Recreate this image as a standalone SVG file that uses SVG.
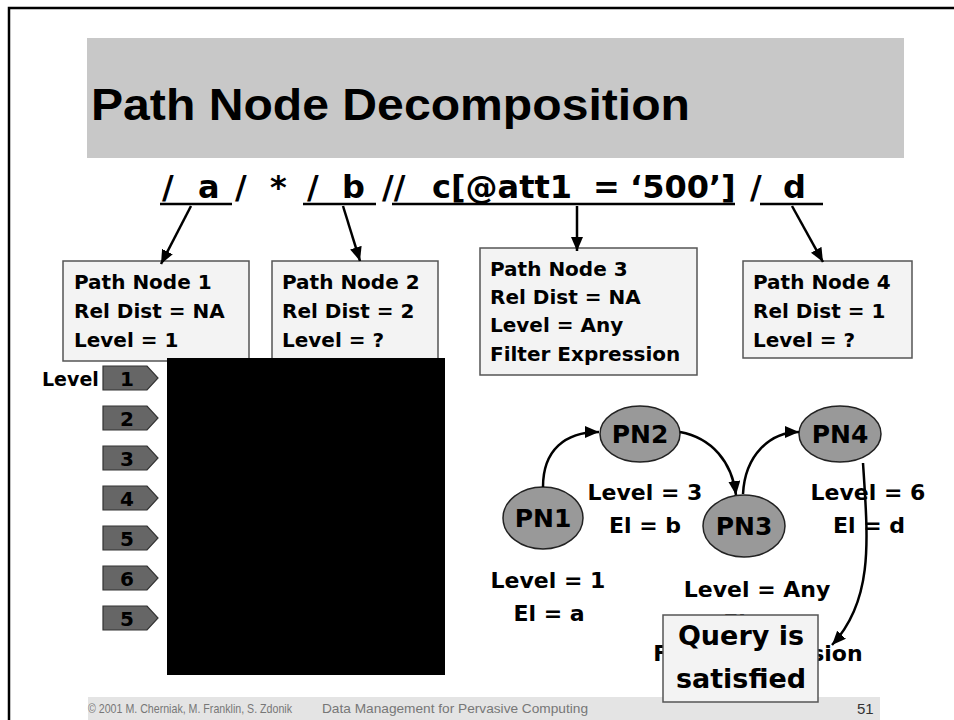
<svg xmlns="http://www.w3.org/2000/svg" width="954" height="720" viewBox="0 0 954 720">
<style>
.c{font-family:"DejaVu Sans","Liberation Sans",sans-serif;font-weight:bold;fill:#000}
.box{fill:#f3f3f3;stroke:#555;stroke-width:1.5}
.tag{fill:#666;stroke:#333;stroke-width:1.2}
.el{fill:#999;stroke:#222;stroke-width:1.5}
.ln{fill:none;stroke:#000;stroke-width:2.5}
.ul{stroke:#000;stroke-width:2.5}
.ft{font-family:"Liberation Sans",Arial,sans-serif;fill:#777;font-size:13px}
</style>
<defs>
<marker id="ah" markerUnits="userSpaceOnUse" markerWidth="16" markerHeight="14" refX="14" refY="6" orient="auto">
<path d="M0,0 L14,6 L0,12 z" fill="#000"/>
</marker>
</defs>
<rect width="954" height="720" fill="#fff"/>
<path d="M9,720 V8 H954" fill="none" stroke="#000" stroke-width="2.5"/>
<g id="title">
<rect x="87" y="38" width="817" height="120" fill="#c8c8c8"/>
<text x="91" y="120" font-family="Liberation Sans,Arial,sans-serif" font-weight="bold" font-size="45" textLength="599" lengthAdjust="spacingAndGlyphs">Path Node Decomposition</text>
</g>
<g id="expression" class="c" font-size="32">
<text class="c" font-size="32" y="198"><tspan x="162">/</tspan><tspan x="198">a</tspan><tspan x="235">/</tspan><tspan x="270">*</tspan><tspan x="307">/</tspan><tspan x="342">b</tspan><tspan x="382">//</tspan><tspan x="432">c[@att1</tspan><tspan x="593">=</tspan><tspan x="630">‘500’]</tspan><tspan x="750">/</tspan><tspan x="783">d</tspan></text>
<line class="ul" x1="160" y1="204" x2="232" y2="204"/>
<line class="ul" x1="303" y1="204" x2="376" y2="204"/>
<line class="ul" x1="392" y1="204" x2="735" y2="204"/>
<line class="ul" x1="760" y1="204" x2="823" y2="204"/>
</g>
<g id="pathnode1">
<rect class="box" x="63" y="261" width="186" height="100"/>
<text class="c" font-size="20" x="74" y="289">Path Node 1</text>
<text class="c" font-size="20" x="74" y="318">Rel Dist = NA</text>
<text class="c" font-size="20" x="74" y="347">Level = 1</text>
</g>
<g id="pathnode2">
<rect class="box" x="272" y="261" width="166" height="100"/>
<text class="c" font-size="20" x="282" y="289">Path Node 2</text>
<text class="c" font-size="20" x="282" y="318">Rel Dist = 2</text>
<text class="c" font-size="20" x="282" y="347">Level = ?</text>
</g>
<g id="pathnode3">
<rect class="box" x="480" y="248" width="217" height="127"/>
<text class="c" font-size="20" x="490" y="276">Path Node 3</text>
<text class="c" font-size="20" x="490" y="304">Rel Dist = NA</text>
<text class="c" font-size="20" x="490" y="332">Level = Any</text>
<text class="c" font-size="20" x="490" y="361">Filter Expression</text>
</g>
<g id="pathnode4">
<rect class="box" x="743" y="261" width="169" height="97"/>
<text class="c" font-size="20" x="753" y="289">Path Node 4</text>
<text class="c" font-size="20" x="753" y="318">Rel Dist = 1</text>
<text class="c" font-size="20" x="753" y="347">Level = ?</text>
</g>
<g id="levels">
<text class="c" font-size="19" x="42" y="386">Level</text>
<polygon class="tag" points="103,366 147,366 158,378 147,390 103,390"/>
<text class="c" font-size="20" x="127" y="386" text-anchor="middle">1</text>
<polygon class="tag" points="103,406 147,406 158,418 147,430 103,430"/>
<text class="c" font-size="20" x="127" y="426" text-anchor="middle">2</text>
<polygon class="tag" points="103,446 147,446 158,458 147,470 103,470"/>
<text class="c" font-size="20" x="127" y="466" text-anchor="middle">3</text>
<polygon class="tag" points="103,486 147,486 158,498 147,510 103,510"/>
<text class="c" font-size="20" x="127" y="506" text-anchor="middle">4</text>
<polygon class="tag" points="103,526 147,526 158,538 147,550 103,550"/>
<text class="c" font-size="20" x="127" y="546" text-anchor="middle">5</text>
<polygon class="tag" points="103,566 147,566 158,578 147,590 103,590"/>
<text class="c" font-size="20" x="127" y="586" text-anchor="middle">6</text>
<polygon class="tag" points="103,606 147,606 158,618 147,630 103,630"/>
<text class="c" font-size="20" x="127" y="626" text-anchor="middle">5</text>
</g>
<rect id="blackout" x="167" y="358" width="278" height="317" fill="#000"/>
<g id="labels" class="c" font-size="22" text-anchor="middle">
<text class="c" font-size="22" text-anchor="middle" x="645" y="500">Level = 3</text>
<text class="c" font-size="22" text-anchor="middle" x="645" y="533">El = b</text>
<text class="c" font-size="22" text-anchor="middle" x="868" y="500">Level = 6</text>
<text class="c" font-size="22" text-anchor="middle" x="869" y="533">El = d</text>
<text class="c" font-size="22" text-anchor="middle" x="548" y="588">Level = 1</text>
<text class="c" font-size="22" text-anchor="middle" x="549" y="621">El = a</text>
<text class="c" font-size="22" text-anchor="middle" x="757" y="597">Level = Any</text>
<text class="c" font-size="22" text-anchor="middle" x="758" y="630">El = c</text>
<text class="c" font-size="22" text-anchor="middle" x="758" y="661">Filter Expression</text>
</g>
<g id="PN1"><ellipse class="el" cx="543" cy="518" rx="40" ry="31"/><text class="c" font-size="25" text-anchor="middle" x="543" y="527">PN1</text></g>
<g id="PN2"><ellipse class="el" cx="640" cy="434" rx="40" ry="28"/><text class="c" font-size="25" text-anchor="middle" x="640" y="443">PN2</text></g>
<g id="PN3"><ellipse class="el" cx="744" cy="526" rx="41" ry="31"/><text class="c" font-size="25" text-anchor="middle" x="744" y="535">PN3</text></g>
<g id="PN4"><ellipse class="el" cx="840" cy="434" rx="41" ry="28"/><text class="c" font-size="25" text-anchor="middle" x="840" y="443">PN4</text></g>
<g id="footer">
<rect x="88" y="697" width="792" height="23" fill="#e4e4e4"/>
<text class="ft" x="88" y="713" textLength="204" lengthAdjust="spacingAndGlyphs">© 2001 M. Cherniak, M. Franklin, S. Zdonik</text>
<text class="ft" x="322" y="713" textLength="266" lengthAdjust="spacingAndGlyphs">Data Management for Pervasive Computing</text>
<text x="857" y="714" font-family="Liberation Sans,Arial,sans-serif" font-size="15" fill="#333">51</text>
</g>
<g id="connectors">
<line class="ln" x1="191" y1="206" x2="161" y2="264" marker-end="url(#ah)"/>
<line class="ln" x1="343" y1="206" x2="360" y2="261" marker-end="url(#ah)"/>
<line class="ln" x1="577" y1="206" x2="577" y2="251" marker-end="url(#ah)"/>
<line class="ln" x1="792" y1="206" x2="823" y2="262" marker-end="url(#ah)"/>
<path class="ln" d="M543,487 C543,450 565,432 599,432" marker-end="url(#ah)"/>
<path class="ln" d="M680,432 C712,438 732,462 736,495" marker-end="url(#ah)"/>
<path class="ln" d="M743,494 C745,455 770,432 799,432" marker-end="url(#ah)"/>
<path class="ln" stroke-width="2" d="M863,463 C868,540 874,600 832,645" marker-end="url(#ah)"/>
</g>
<g id="query">
<rect class="box" x="663" y="615" width="155" height="87"/>
<text class="c" font-size="27" text-anchor="middle" x="741" y="645">Query is</text>
<text class="c" font-size="27" text-anchor="middle" x="741" y="688">satisfied</text>
</g>
</svg>
